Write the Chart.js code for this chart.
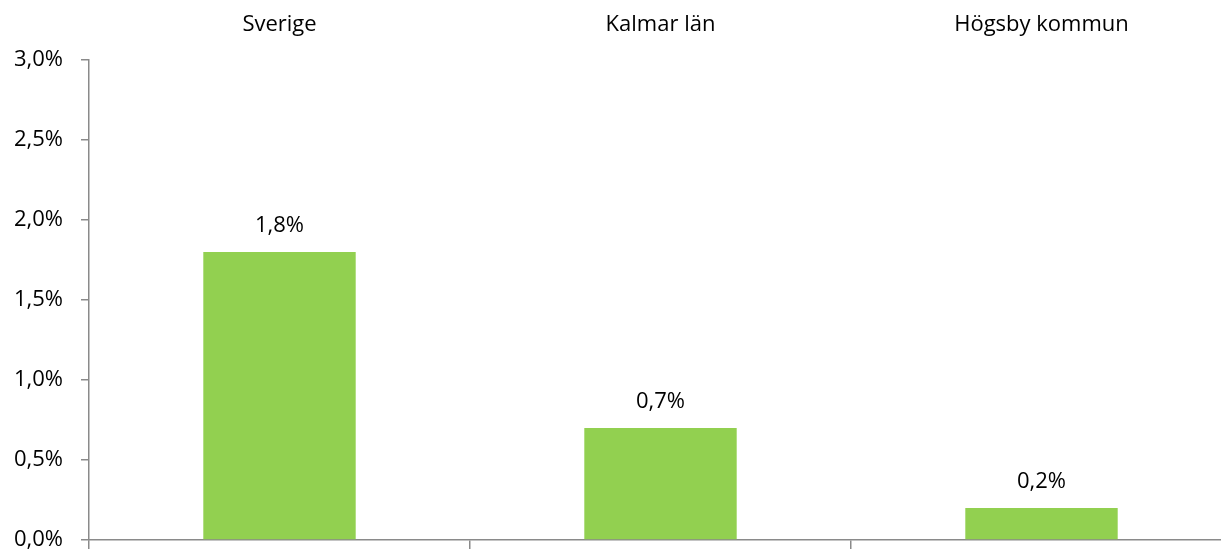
<!DOCTYPE html>
<html>
<head>
<meta charset="utf-8">
<script src="https://cdn.jsdelivr.net/npm/chart.js@4/dist/chart.umd.min.js"></script>
<style>
  html, body { margin: 0; padding: 0; overflow: hidden; background: #fff; }
  #wrap { position: absolute; left: 0; top: 0; width: 1232px; height: 549px; }
</style>
</head>
<body>
<div id="wrap"><canvas id="chart"></canvas></div>
<script>
// chart data
const categories = ['Sverige', 'Kalmar län', 'Högsby kommun'];
const values = [1.8, 0.7, 0.2];
const yTicks = [0, 0.5, 1, 1.5, 2, 2.5, 3];

const fontFamily = '"Open Sans", Lato, sans-serif';
const fontSize = 22;
const axisColor = '#8a8a8a';

// format 1.8 -> "1,8%"
const pct = v => v.toFixed(1).replace('.', ',') + '%';

// draw value labels above each bar
const valueLabels = {
  id: 'valueLabels',
  afterDatasetsDraw(chart) {
    const ctx = chart.ctx;
    const meta = chart.getDatasetMeta(0);
    ctx.save();
    ctx.font = fontSize + 'px ' + fontFamily;
    ctx.fillStyle = '#000';
    ctx.textAlign = 'center';
    ctx.textBaseline = 'middle';
    meta.data.forEach((bar, i) => {
      ctx.fillText(pct(values[i]), bar.x, bar.y - 26);
    });
    ctx.restore();
  }
};

new Chart(document.getElementById('chart'), {
  type: 'bar',
  data: {
    labels: categories,
    datasets: [{
      data: values,
      backgroundColor: '#92D050',
      categoryPercentage: 0.4,
      barPercentage: 1,
      xAxisID: 'x'
    }]
  },
  plugins: [valueLabels],
  options: {
    responsive: true,
    maintainAspectRatio: false,
    animation: false,
    layout: { padding: 0 },
    plugins: { legend: { display: false }, tooltip: { enabled: false } },
    scales: {
      x: {
        type: 'category',
        position: 'bottom',
        offset: true,
        grid: { offset: true, drawOnChartArea: false, drawTicks: true, tickLength: 9, color: axisColor, lineWidth: 1.5 },
        border: { display: true, color: axisColor, width: 1.5 },
        ticks: { callback: () => '', padding: 0 },
        afterFit: s => { s.height = 9; s.paddingLeft = 0; s.paddingRight = 0; }
      },
      xTop: {
        type: 'category',
        position: 'top',
        labels: categories,
        offset: true,
        grid: { display: false },
        border: { display: false },
        ticks: { color: '#000', font: { family: fontFamily, size: fontSize }, padding: 14 },
        afterFit: s => { s.height = 60; s.paddingLeft = 0; s.paddingRight = 0; }
      },
      y: {
        min: 0,
        max: 3,
        afterBuildTicks: s => { s.ticks = yTicks.map(v => ({ value: v })); },
        grid: { drawOnChartArea: false, drawTicks: true, tickLength: 8, color: axisColor, lineWidth: 1.5 },
        border: { display: true, color: axisColor, width: 1.5 },
        ticks: { color: '#000', font: { family: fontFamily, size: fontSize }, padding: 18, callback: v => pct(v) },
        afterFit: s => { s.width = 89; s.paddingTop = 0; s.paddingBottom = 0; }
      }
    }
  }
});
</script>
</body>
</html>
